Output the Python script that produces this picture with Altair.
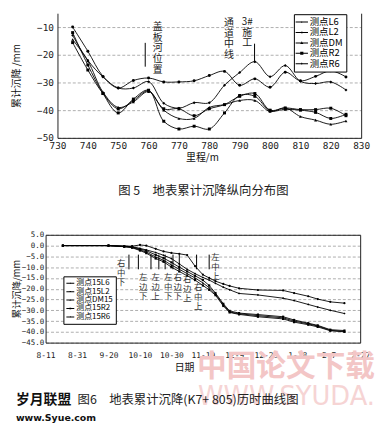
import altair as alt
import pandas as pd

CJK = "Noto Sans CJK SC"
MONO = "DejaVu Sans Mono"

# ---------------- Figure 5: longitudinal distribution ----------------
mileage = [735, 740, 745, 750, 755, 760, 765, 770, 775, 780,
           785, 790, 795, 800, 805, 810, 815, 820, 825]
f5_L6 = [-10.0, -18.7, -27.8, -32.0, -29.3, -28.4, -29.8, -29.8, -29.4, -27.5,
         -26.0, -31.0, -28.7, -31.7, -26.3, -29.4, -27.8, -25.8, -28.0]
f5_L2 = [-15.6, -25.5, -34.0, -39.5, -36.5, -33.0, -39.5, -39.5, -42.0, -39.5,
         -38.0, -35.0, -34.0, -40.0, -39.2, -39.8, -39.8, -39.3, -42.0]
f5_DM = [-14.5, -22.2, -33.5, -39.0, -37.0, -33.3, -40.0, -43.0, -43.0, -39.0,
         -38.0, -36.5, -36.5, -40.5, -39.2, -42.3, -43.6, -45.1, -43.9]
f5_R2 = [-12.0, -23.7, -34.0, -41.0, -36.0, -32.8, -44.0, -46.8, -45.8, -46.8,
         -41.0, -34.7, -35.0, -40.2, -39.7, -40.0, -40.8, -43.0, -41.5]
f5_R6 = [-13.0, -22.0, -28.0, -32.0, -32.0, -29.7, -37.5, -39.3, -37.3, -37.3,
         -31.0, -26.4, -22.5, -27.9, -23.9, -29.6, -30.4, -29.8, -32.7]
f5_names = ["测点L6", "测点L2", "测点DM", "测点R2", "测点R6"]
f5_x_ticks = [730, 740, 750, 760, 770, 780, 790, 800, 810, 820, 830]
f5_y_ticks = [-10, -20, -30, -40, -50]
f5_mark_m = [758.9, 794.9]
f5_mark_top = [-15.7, -16.0]
f5_mark_bottom = [-24.3, -22.8]
f5_notes = ["盖\n板\n河\n位\n置", "通\n道\n中\n线", "3#\n\n施\n工"]
f5_notes_m = [763.0, 786.5, 792.5]
f5_notes_v = [-8.2, -6.8, -6.4]
f5_caption = "图 5　地表累计沉降纵向分布图"

# ---------------- Figure 6: settlement vs. time (K7+805) ----------------
f6_dates = ["2009/08/22", "2009/09/20", "2009/09/30", "2009/10/05", "2009/10/10",
            "2009/10/14", "2009/10/20", "2009/10/25", "2009/10/30", "2009/11/04",
            "2009/11/09", "2009/11/14", "2009/11/19", "2009/11/23", "2009/11/27",
            "2009/12/02", "2009/12/06", "2009/12/12", "2009/12/24", "2010/01/09",
            "2010/01/16", "2010/01/25", "2010/01/31", "2010/02/08", "2010/02/17"]
f6_L6 = [0, 0, -0.2, -0.3, 0.3, 0.0, -1.5, -2.7, -3.4, -3.8, -4.4, -9.5, -13.5,
         -15.0, -16.5, -17.8, -18.7, -19.8, -20.6, -20.8, -22.0, -23.5, -24.8, -26.1, -26.7]
f6_L2 = [0, 0, -0.4, -0.6, -1.6, -2.4, -4.3, -5.8, -7.8, -10.0, -12.0, -14.0, -16.0,
         -18.5, -22.0, -27.0, -30.3, -31.3, -32.0, -33.0, -34.5, -36.0, -37.0, -39.0, -39.4]
f6_DM = [0, 0, -0.5, -0.8, -2.0, -3.0, -5.3, -6.8, -9.0, -11.0, -13.0, -15.0, -17.3,
         -19.5, -22.5, -27.5, -30.8, -31.6, -32.5, -33.5, -35.0, -36.3, -37.3, -39.3, -39.8]
f6_R2 = [0, 0, -0.5, -1.0, -2.3, -3.5, -6.0, -7.5, -10.0, -12.0, -14.0, -16.0, -18.5,
         -20.5, -23.0, -28.0, -31.0, -31.9, -33.0, -34.0, -35.5, -36.7, -37.7, -39.5, -40.0]
f6_R6 = [0, 0, -0.3, -0.5, -1.3, -2.0, -3.2, -4.5, -6.0, -8.5, -11.0, -13.0, -14.8,
         -16.0, -17.5, -19.3, -20.5, -22.2, -22.9, -24.4, -25.5, -27.3, -28.5, -30.0, -31.5]
f6_names = ["测点15L6", "测点15L2", "测点DM15", "测点15R2", "测点15R6"]
f6_x_ticks = ["2009/08/11", "2009/08/31", "2009/09/20", "2009/10/10", "2009/10/30",
              "2009/11/19", "2009/12/09", "2009/12/29", "2010/01/18", "2010/02/07",
              "2010/02/27"]
f6_y_ticks = [5, 0, -5, -10, -15, -20, -25, -30, -35, -40, -45]
f6_mark_dates = ["2009/10/03", "2009/10/09", "2009/10/17", "2009/10/22", "2009/10/26",
                 "2009/10/31", "2009/11/04", "2009/11/15", "2009/11/23"]
f6_mark_top = [-4.2] * 9
f6_mark_bottom = [-11.0] * 9
f6_notes = ["右\n中\n下", "左\n边\n下", "左\n边\n上", "左\n中\n下", "右\n边\n下",
            "右\n边\n上", "右\n中\n上", "左\n中\n上"]
f6_notes_dates = ["2009/09/28", "2009/10/12", "2009/10/20", "2009/10/28", "2009/11/03",
                  "2009/11/09", "2009/11/16", "2009/11/27"]
f6_notes_v = [-6.4, -12.8, -12.8, -12.8, -12.8, -13.7, -17.4, -3.6]
f6_caption = ["图6　地表累计沉降(K7+ 805)历时曲线图"]
wm_big = ["中国论文下载", "WWW.SYUDA."]
wm_site = ["岁月联盟", "www.Syue.com"]


def dt(s):
    y, m, d = s.split("/")
    return alt.DateTime(year=int(y), month=int(m), date=int(d))


def domain_only(orient):
    return alt.Axis(orient=orient, labels=False, ticks=False, grid=False, domain=True,
                    domainColor="#222", title=None)


# ---------------- Figure 5 chart ----------------
rows = []
for name, vals in zip(f5_names, [f5_L6, f5_L2, f5_DM, f5_R2, f5_R6]):
    for m, v in zip(mileage, vals):
        rows.append({"m": m, "v": v, "s": name})
df5 = pd.DataFrame(rows)

# plot spans 12..319 px inside a 319 px wide view (the view is shared in x with figure 6)
x5 = alt.X("m:Q", scale=alt.Scale(domain=[730, 830], nice=False, range=[12, 319]),
           axis=alt.Axis(values=f5_x_ticks, title="里程/m", labelFont=MONO, labelFontSize=9.5,
                         labelColor="#222", ticks=False, grid=False, domainColor="#222",
                         labelPadding=3, titleFont=CJK, titleFontSize=10, titleX=158,
                         titleFontWeight="normal", titleColor="#111", titlePadding=2,
                         labelFlush=False))
y5_scale = alt.Scale(domain=[-50, -5], nice=False)
y5_main = alt.Y("v:Q", scale=y5_scale,
                axis=alt.Axis(values=f5_y_ticks, format="d", title="累计沉降 /mm",
                              offset=-12,
                              labelFont=MONO, labelFontSize=9.5, labelColor="#222",
                              ticks=False, grid=True, gridDash=[3, 2], gridColor="#999",
                              gridWidth=0.8, domainColor="#222", labelPadding=4,
                              titleFont=CJK, titleFontSize=10, titleFontWeight="normal",
                              titleColor="#111", titlePadding=15))
y5_none = alt.Y("v:Q", scale=y5_scale, axis=None)

shapes5 = ["circle", "square", "triangle-up", "square", "diamond"]
sizes5 = [9, 9, 22, 34, 10]
BAR5 = "M-1.25,-0.1H1.25V0.1H-1.25Z"
leg_paths5 = [
    BAR5 + "M0.17,0A0.17,0.17,0,1,1,-0.17,0A0.17,0.17,0,1,1,0.17,0Z",
    BAR5 + "M-0.17,-0.17H0.17V0.17H-0.17Z",
    BAR5 + "M0,-0.34L0.3,0.2H-0.3Z",
    BAR5 + "M-0.32,-0.32H0.32V0.32H-0.32Z",
    BAR5 + "M0,-0.24L0.24,0L0,0.24L-0.24,0Z",
]

lines5 = alt.Chart(df5).mark_line(interpolate="catmull-rom", color="black",
                                  strokeWidth=0.9).encode(x=x5, y=y5_main, detail="s:N")
points5 = alt.Chart(df5).mark_point(filled=True, color="black", opacity=1).encode(
    x=x5, y=y5_none,
    shape=alt.Shape("s:N", scale=alt.Scale(domain=f5_names, range=shapes5), legend=None),
    size=alt.Size("s:N", scale=alt.Scale(domain=f5_names, range=sizes5), legend=None))
marks5 = alt.Chart(pd.DataFrame({"m": f5_mark_m, "v": f5_mark_top, "v2": f5_mark_bottom})
                   ).mark_rule(color="black", strokeWidth=1).encode(x=x5, y=y5_none, y2="v2:Q")
notes5 = alt.Chart(pd.DataFrame({"m": f5_notes_m, "v": f5_notes_v, "t": f5_notes})).mark_text(
    lineBreak="\n", baseline="top", align="center", font=CJK, fontSize=10,
    lineHeight=10.8, color="#222").encode(x=x5, y=y5_none, text="t:N")
legend5 = alt.Chart(df5).transform_calculate(lg="datum.s").mark_point(
    filled=True, fill="black", stroke="black", strokeWidth=1, opacity=0).encode(
    x=x5,
    y=alt.Y("v:Q", scale=y5_scale, axis=domain_only("right")),
    shape=alt.Shape("lg:N", scale=alt.Scale(domain=f5_names, range=leg_paths5),
                    legend=alt.Legend(orient="none", legendX=251, legendY=1, title=None,
                                      strokeColor="black", fillColor="white", padding=3,
                                      symbolSize=100, symbolStrokeWidth=0,
                                      symbolFillColor="black",
                                      symbolOpacity=1, labelFont=CJK, labelFontSize=9.5,
                                      labelColor="black", rowPadding=0.5, labelOffset=3,
                                      cornerRadius=0)))

fig5 = alt.layer(lines5, points5, marks5, notes5, legend5).resolve_scale(
    y="independent", shape="independent").properties(
    width=319, height=126,
    title=alt.Title(f5_caption, orient="bottom", anchor="middle", font=CJK, fontSize=12.5,
                    fontWeight="normal", color="#222", offset=23))

# ---------------- Figure 6 chart ----------------
rows = []
for name, vals in zip(f6_names, [f6_L6, f6_L2, f6_DM, f6_R2, f6_R6]):
    for d, v in zip(f6_dates, vals):
        rows.append({"d": d, "v": v, "s": name})
df6 = pd.DataFrame(rows)

x6_scale = alt.Scale(domain=[dt(f6_x_ticks[0]), dt(f6_x_ticks[-1])], nice=False)
x6 = alt.X("d:T", scale=x6_scale,
           axis=alt.Axis(values=[dt(s) for s in f6_x_ticks], format="%-m-%-d", title="日期",
                         labelFont=MONO, labelFontSize=8, labelColor="#222", ticks=False,
                         grid=False, domainColor="#222", labelPadding=9, labelFlush=False,
                         labelOverlap=False, titleFont=CJK, titleFontSize=10, titleX=140,
                         titleFontWeight="normal", titleColor="#111", titlePadding=3))
x6_none = alt.X("d:T", scale=x6_scale, axis=None)
y6_scale = alt.Scale(domain=[-45, 5], nice=False)
y6_main = alt.Y("v:Q", scale=y6_scale,
                axis=alt.Axis(values=f6_y_ticks, format=".1f", title="累计沉降/mm",
                              labelFont=MONO, labelFontSize=7.5, labelColor="#222",
                              ticks=False, grid=True, gridDash=[3, 2], gridColor="#999",
                              gridWidth=0.8, domainColor="#222", labelPadding=2,
                              titleFont=CJK, titleFontSize=9.5, titleFontWeight="normal",
                              titleColor="#111", titlePadding=0))
y6_none = alt.Y("v:Q", scale=y6_scale, axis=None)

shapes6 = ["circle", "square", "triangle-up", "square", "diamond"]
BAR6 = "M-1,-0.12H1V0.12H-1Z"
leg_paths6 = [
    BAR6 + "M0.17,0A0.17,0.17,0,1,1,-0.17,0A0.17,0.17,0,1,1,0.17,0Z",
    BAR6 + "M-0.17,-0.17H0.17V0.17H-0.17Z",
    BAR6 + "M0,-0.26L0.24,0.17H-0.24Z",
    BAR6 + "M-0.22,-0.22H0.22V0.22H-0.22Z",
    BAR6 + "M0,-0.22L0.22,0L0,0.22L-0.22,0Z",
]

wm_layer = alt.Chart(pd.DataFrame({"t": wm_big})).transform_filter("datum.t == '中国论文下载'").mark_text(
    font=CJK, fontSize=30, fontWeight="bold", color="#f3c6c6", align="right",
    baseline="middle").encode(x=alt.value(333), y=alt.value(134), text="t:N")
wm_layer2 = alt.Chart(pd.DataFrame({"t": wm_big})).transform_filter("datum.t == 'WWW.SYUDA.'").mark_text(
    font="DejaVu Sans", fontSize=26, color="#f6d4d4", align="right",
    baseline="middle").encode(x=alt.value(333), y=alt.value(164), text="t:N")
lines6 = alt.Chart(df6).mark_line(color="black", strokeWidth=0.9).encode(
    x=x6, y=y6_main, detail="s:N")
points6 = alt.Chart(df6).mark_point(filled=True, color="black", opacity=1, size=5).encode(
    x=x6_none, y=y6_none,
    shape=alt.Shape("s:N", scale=alt.Scale(domain=f6_names, range=shapes6), legend=None))
marks6 = alt.Chart(pd.DataFrame({"d": f6_mark_dates, "v": f6_mark_top, "v2": f6_mark_bottom})
                   ).mark_rule(color="black", strokeWidth=1).encode(x=x6_none, y=y6_none, y2="v2:Q")
notes6 = alt.Chart(pd.DataFrame({"d": f6_notes_dates, "v": f6_notes_v, "t": f6_notes})).mark_text(
    lineBreak="\n", baseline="top", align="center", font=CJK, fontSize=8.5,
    lineHeight=9.6, color="#333").encode(x=x6_none, y=y6_none, text="t:N")
legend6 = alt.Chart(df6).transform_calculate(lg="datum.s").mark_point(
    filled=True, fill="black", stroke="black", strokeWidth=1, opacity=0).encode(
    x=alt.X("d:T", scale=x6_scale, axis=domain_only("top")),
    y=alt.Y("v:Q", scale=y6_scale, axis=domain_only("right")),
    shape=alt.Shape("lg:N", scale=alt.Scale(domain=f6_names, range=leg_paths6),
                    legend=alt.Legend(orient="none", legendX=18, legendY=42, title=None,
                                      strokeColor="black", fillColor="white", padding=3,
                                      symbolSize=64, symbolStrokeWidth=0,
                                      symbolFillColor="black",
                                      symbolOpacity=1, labelFont=CJK, labelFontSize=8,
                                      labelColor="black", rowPadding=0.5, labelOffset=2,
                                      cornerRadius=0)))
caption6 = alt.Chart(pd.DataFrame({"t": f6_caption})).mark_text(
    font=CJK, fontSize=12.5, color="#222", align="center", baseline="middle").encode(
    x=alt.value(144), y=alt.value(167), text="t:N")
site1 = alt.Chart(pd.DataFrame({"t": wm_site})).transform_filter("datum.t == '岁月联盟'").mark_text(
    font=CJK, fontSize=14, fontWeight="bold", color="#111", align="left",
    baseline="middle").encode(x=alt.value(-30), y=alt.value(167), text="t:N")
site2 = alt.Chart(pd.DataFrame({"t": wm_site})).transform_filter("datum.t == 'www.Syue.com'").mark_text(
    font="DejaVu Sans", fontSize=9.5, fontWeight="bold", color="#111", align="left",
    baseline="middle").encode(x=alt.value(-30), y=alt.value(185), text="t:N")

fig6 = alt.layer(wm_layer, wm_layer2, lines6, points6, marks6, notes6, legend6, caption6,
                 site1, site2).resolve_scale(
    x="independent", y="independent", shape="independent").properties(width=318, height=109)

chart = alt.concat(fig5, fig6, columns=1, spacing=34).properties(
    padding={"left": 3, "top": 3, "right": 0, "bottom": 0},
    background="white").configure_view(strokeWidth=0)

chart.save("out.html", embed_options={"renderer": "svg", "actions": False})
